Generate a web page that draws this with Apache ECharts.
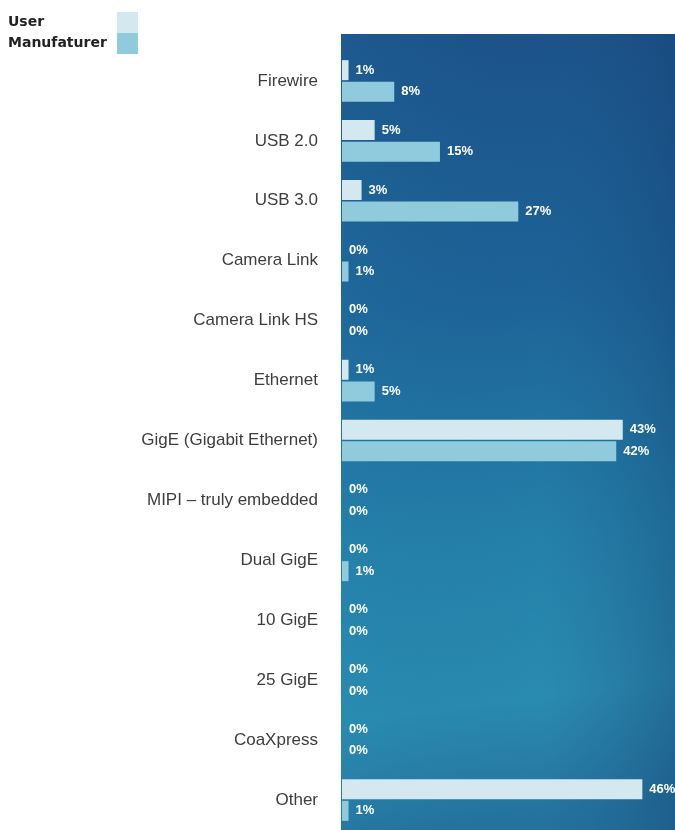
<!DOCTYPE html>
<html>
<head>
<meta charset="utf-8">
<script src="https://cdn.jsdelivr.net/npm/echarts@6/dist/echarts.min.js"></script>
<style>
html,body{margin:0;padding:0;background:#fff;}
#chart{width:675px;height:830px;}
</style>
</head>
<body>
<div id="chart"></div>
<script>
const categories = ['Firewire','USB 2.0','USB 3.0','Camera Link','Camera Link HS','Ethernet','GigE (Gigabit Ethernet)','MIPI – truly embedded','Dual GigE','10 GigE','25 GigE','CoaXpress','Other'];
const userValues = [1,5,3,0,0,1,43,0,0,0,0,0,46];
const manufacturerValues = [8,15,27,1,0,5,42,0,1,0,0,0,1];
const seriesNames = ['User','Manufaturer'];

const chart = echarts.init(document.getElementById('chart'), null, {renderer:'canvas'});
const labelStyle = {
  show: true, position: 'right', distance: 7,
  formatter: '{c}%', color: '#ffffff', fontWeight: 'bold',
  fontFamily: 'Liberation Sans', fontSize: 13
};
chart.setOption({
  animation: false,
  backgroundColor: '#ffffff',
  graphic: [
    {type:'rect', z:-10, shape:{x:341,y:34,width:334,height:796},
     style:{fill:{type:'linear',x:0,y:0,x2:0.3,y2:1,colorStops:[
       {offset:0,color:'#1b5188'},{offset:0.35,color:'#1d6397'},
       {offset:0.65,color:'#2480a9'},{offset:0.85,color:'#2a8bb0'},{offset:1,color:'#24729e'}]}}},
    {type:'rect', z:-9, shape:{x:341,y:34,width:334,height:796},
     style:{fill:{type:'linear',x:0,y:0,x2:1,y2:0,colorStops:[
       {offset:0,color:'rgba(40,140,180,0.15)'},{offset:0.6,color:'rgba(30,90,140,0)'},{offset:1,color:'rgba(20,60,110,0.35)'}]}}}
  ],
  legend: {
    orient: 'vertical', left: 3, top: 7, itemGap: 0,
    itemWidth: 21, itemHeight: 21, align: 'right', icon: 'rect',
    data: seriesNames,
    formatter: function (name) { return '{t|' + name + '}'; },
    textStyle: {
      rich: {t: {fontFamily:'DejaVu Sans', fontWeight:'bold', fontSize:14, color:'#222', width:104, align:'left'}}
    },
    selectedMode: false
  },
  grid: {left: 342, right: 0, top: 51, height: 788, containLabel: false},
  xAxis: {type:'value', min:0, max:51, show:false},
  yAxis: {
    type:'category', data: categories, inverse: true,
    axisLine:{show:false}, axisTick:{show:false}, splitLine:{show:false},
    axisLabel:{color:'#3d3d3d', fontFamily:'Liberation Sans', fontSize:17, margin:24}
  },
  series: [
    {name: seriesNames[0], type:'bar', data: userValues, barWidth: 20, barGap:'8%',
     itemStyle:{color:'#d3e8ef'}, label: labelStyle},
    {name: seriesNames[1], type:'bar', data: manufacturerValues, barWidth: 20,
     itemStyle:{color:'#8fcadd'}, label: labelStyle}
  ]
});
</script>
</body>
</html>
